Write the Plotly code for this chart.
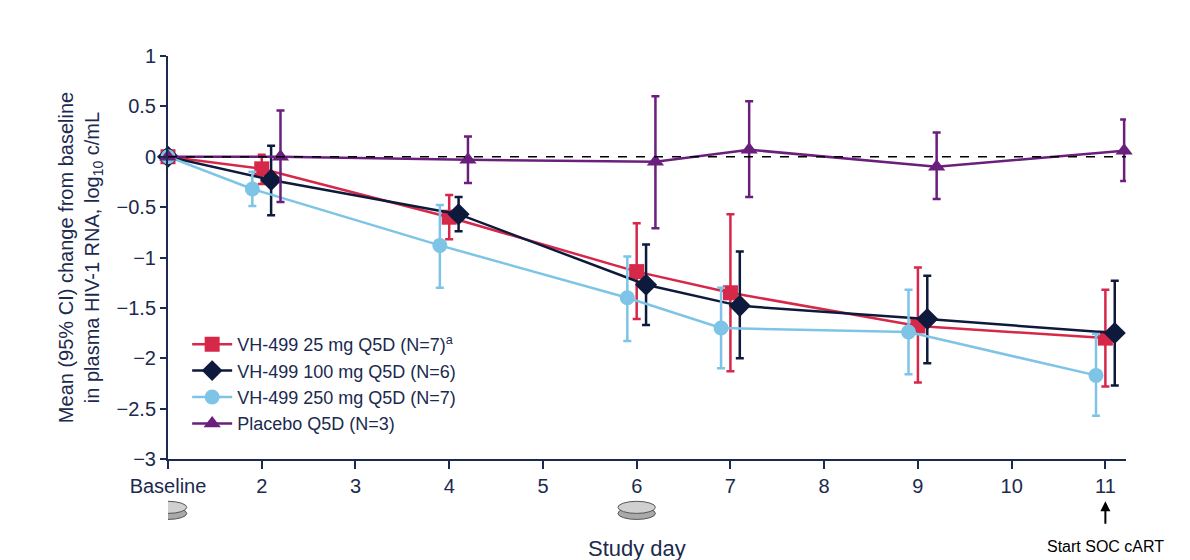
import plotly.graph_objects as go

days = [1, 2, 4, 6, 7, 9, 11]
tick_vals = [1, 2, 3, 4, 5, 6, 7, 8, 9, 10, 11]
tick_text = ["Baseline", "2", "3", "4", "5", "6", "7", "8", "9", "10", "11"]

red_y = [0, -0.12, -0.60, -1.14, -1.35, -1.68, -1.80]
red_hi = [0, 0.02, -0.38, -0.66, -0.57, -1.10, -1.32]
red_lo = [0, -0.27, -0.82, -1.61, -2.13, -2.24, -2.28]

navy_y = [0, -0.23, -0.57, -1.27, -1.48, -1.61, -1.75]
navy_hi = [0, 0.11, -0.40, -0.87, -0.94, -1.18, -1.23]
navy_lo = [0, -0.58, -0.74, -1.67, -2.00, -2.05, -2.27]

blue_y = [0, -0.32, -0.88, -1.40, -1.70, -1.74, -2.17]
blue_hi = [0, -0.15, -0.48, -0.99, -1.30, -1.32, -1.76]
blue_lo = [0, -0.49, -1.30, -1.83, -2.10, -2.16, -2.57]

purp_y = [0, 0.00, -0.03, -0.05, 0.07, -0.10, 0.06]
purp_hi = [0, 0.46, 0.20, 0.60, 0.55, 0.24, 0.37]
purp_lo = [0, -0.45, -0.26, -0.71, -0.40, -0.42, -0.24]

series = [
    ("VH-499 25 mg Q5D (N=7)<sup>a</sup>", red_y, red_hi, red_lo, "#D6294A", "square", 0.0),
    ("VH-499 100 mg Q5D (N=6)", navy_y, navy_hi, navy_lo, "#0E1A3C", "diamond", 0.1),
    ("VH-499 250 mg Q5D (N=7)", blue_y, blue_hi, blue_lo, "#7DC4E6", "circle", -0.1),
    ("Placebo Q5D (N=3)", purp_y, purp_hi, purp_lo, "#6B1F7C", "triangle-up", 0.2),
]

fig = go.Figure()
fig.add_hline(y=0, line=dict(color="black", width=1.5, dash="dash"))
for name, y, hi, lo, col, sym, off in series:
    x = [d + (off if i > 0 else 0) for i, d in enumerate(days)]
    fig.add_trace(go.Scatter(
        x=x, y=y, name=name, mode="lines+markers",
        line=dict(color=col, width=2.5),
        marker=dict(symbol=sym, size=15 if sym != "diamond" else 17, color=col),
        error_y=dict(type="data", symmetric=False,
                     array=[h - v for h, v in zip(hi, y)],
                     arrayminus=[v - l for l, v in zip(lo, y)],
                     color=col, thickness=2.5, width=4),
        cliponaxis=False,
    ))

axcol = "#1B2A4E"
fig.update_layout(
    width=1190, height=560,
    margin=dict(l=160, r=72, t=48, b=109),
    plot_bgcolor="white", paper_bgcolor="white",
    font=dict(family="Liberation Sans, Arial", size=20, color=axcol),
    showlegend=True,
    legend=dict(x=0.02, y=0.33, xanchor="left", yanchor="top",
                font=dict(size=18, color=axcol), bgcolor="rgba(0,0,0,0)",
                tracegroupgap=0, itemwidth=40),
    xaxis=dict(range=[1, 11.22], tickvals=tick_vals, ticktext=tick_text,
               showgrid=False, zeroline=False, showline=True, linecolor=axcol,
               linewidth=2, ticks="outside", tickcolor=axcol, ticklen=8, tickwidth=2,
               tickfont=dict(size=20, color=axcol)),
    yaxis=dict(range=[-3, 1], dtick=0.5, showgrid=False, zeroline=False,
               showline=True, linecolor=axcol, linewidth=2, ticks="outside",
               tickcolor=axcol, ticklen=6, tickwidth=2,
               tickfont=dict(size=20, color=axcol),
               title=dict(text="Mean (95% CI) change from baseline<br>in plasma HIV-1 RNA, log<sub>10</sub> c/mL",
                          font=dict(size=20, color=axcol), standoff=12)),
)

for xd in [1, 6]:
    fig.add_shape(type="circle", xref="x", yref="paper", x0=xd - 0.2, x1=xd + 0.2,
                  y0=-0.15, y1=-0.12, fillcolor="#A9A9A9", line=dict(color="#555", width=1))
    fig.add_shape(type="circle", xref="x", yref="paper", x0=xd - 0.2, x1=xd + 0.2,
                  y0=-0.135, y1=-0.105, fillcolor="#D0D0D0", line=dict(color="#555", width=1))

fig.add_annotation(xref="x", yref="paper", x=6, y=-0.185, text="Study day",
                   showarrow=False, yanchor="top", font=dict(size=22, color=axcol))
fig.add_annotation(xref="x", yref="paper", x=11, y=-0.19, text="Start SOC cART",
                   showarrow=False, yanchor="top", font=dict(size=16, color="black"))
fig.add_annotation(xref="x", yref="paper", x=11, y=-0.105, ax=0, ay=24,
                   showarrow=True, arrowhead=2,
                   arrowsize=1, arrowwidth=2, arrowcolor="black", text="")

fig.write_html("out.html")
